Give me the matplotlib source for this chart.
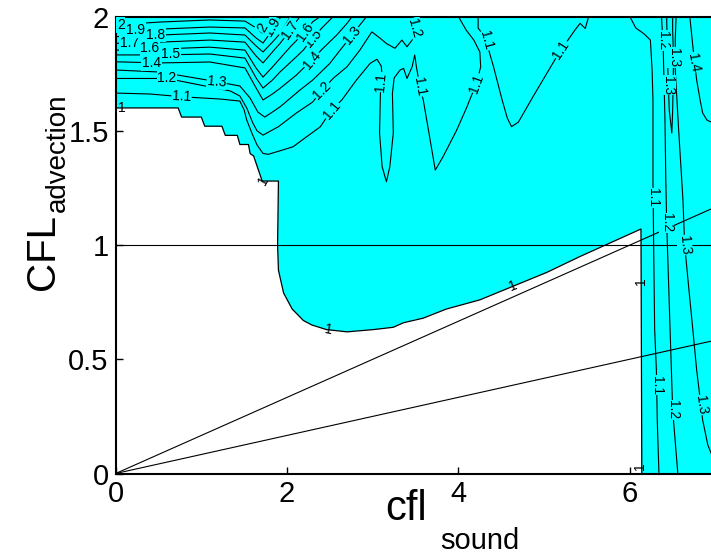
import matplotlib.pyplot as plt

plt.rcParams['font.family'] = ['Liberation Sans', 'DejaVu Sans']

CYAN = '#00ffff'

# |A| = 1 contour, the edge of the stable (white) region
bound_x = [0, 0.73, 0.77, 1.00, 1.04, 1.24, 1.28, 1.42, 1.45, 1.55, 1.57, 1.61,
           1.71, 1.90, 1.89, 1.90, 1.96, 2.06, 2.19, 2.29, 2.46, 2.70, 3.01,
           3.24, 3.36, 3.59, 3.86, 4.25, 4.64, 5.03, 5.42, 6.13, 6.14]
bound_y = [1.60, 1.60, 1.56, 1.56, 1.52, 1.52, 1.48, 1.48, 1.44, 1.44, 1.40, 1.39,
           1.28, 1.28, 1.00, 0.89, 0.79, 0.72, 0.67, 0.65, 0.63, 0.62, 0.63,
           0.64, 0.66, 0.68, 0.72, 0.76, 0.82, 0.88, 0.95, 1.07, 0.00]

# traced |A| contours in the unstable region
lev20_x = [0, 0.52, 1.10, 1.51, 1.64, 1.71, 1.80, 1.85]
lev20_y = [1.963, 1.976, 1.985, 1.980, 1.950, 1.928, 1.976, 2.0]

lev19_x = [0, 0.52, 1.10, 1.51, 1.64, 1.72, 1.83, 1.93]
lev19_y = [1.933, 1.945, 1.954, 1.950, 1.906, 1.884, 1.941, 2.0]

lev18_x = [0, 0.52, 1.10, 1.51, 1.64, 1.72, 1.83, 1.92, 2.04]
lev18_y = [1.912, 1.919, 1.928, 1.919, 1.871, 1.845, 1.888, 1.926, 2.0]

lev17_x = [0, 0.52, 1.10, 1.51, 1.64, 1.72, 1.83, 1.92, 2.04, 2.15]
lev17_y = [1.883, 1.888, 1.897, 1.888, 1.827, 1.797, 1.845, 1.883, 1.941, 2.0]

lev16_x = [0, 0.52, 1.10, 1.51, 1.64, 1.72, 1.83, 1.92, 2.04, 2.21, 2.30, 2.39]
lev16_y = [1.853, 1.858, 1.866, 1.853, 1.774, 1.735, 1.779, 1.817, 1.868, 1.933,
           1.977, 2.0]

lev15_x = [0, 0.52, 1.10, 1.51, 1.64, 1.72, 1.83, 1.92, 2.07, 2.19, 2.30, 2.42, 2.54]
lev15_y = [1.832, 1.832, 1.836, 1.818, 1.731, 1.687, 1.722, 1.758, 1.810, 1.853,
           1.906, 1.955, 2.0]

lev14_x = [0, 0.52, 1.10, 1.51, 1.64, 1.72, 1.83, 1.92, 2.11, 2.29, 2.42, 2.58,
           2.70, 2.76]
lev14_y = [1.802, 1.797, 1.801, 1.775, 1.687, 1.635, 1.661, 1.686, 1.744, 1.810,
           1.861, 1.919, 1.970, 2.0]

lev13_x = [0, 0.52, 1.18, 1.45, 1.57, 1.66, 1.74, 1.83, 1.92, 2.15, 2.30, 2.50,
           2.62, 2.76, 2.85, 2.93]
lev13_y = [1.766, 1.757, 1.715, 1.696, 1.643, 1.582, 1.560, 1.582, 1.605, 1.678,
           1.722, 1.795, 1.853, 1.919, 1.963, 2.0]

lev12_x = [0, 0.60, 0.99, 1.34, 1.45, 1.53, 1.60, 1.65, 1.72, 1.90, 2.11, 2.30,
           2.41, 2.54, 2.70, 2.85, 2.99, 3.09, 3.16, 3.26, 3.34, 3.40, 3.46, 3.49,
           3.52]
lev12_y = [1.729, 1.729, 1.700, 1.674, 1.652, 1.600, 1.535, 1.500, 1.481, 1.518,
           1.578, 1.626, 1.678, 1.730, 1.780, 1.853, 1.933, 1.904, 1.882, 1.861,
           1.897, 1.868, 1.897, 1.985, 2.0]

lev11_x = [0, 0.40, 0.77, 1.22, 1.45, 1.50, 1.53, 1.59, 1.65, 1.72, 1.78, 1.88,
           2.07, 2.23, 2.39, 2.52, 2.64, 2.81, 2.97, 3.05, 3.10, 3.11, 3.09, 3.08,
           3.11, 3.16, 3.20, 3.24, 3.23, 3.25, 3.32, 3.36, 3.40, 3.46, 3.49, 3.51,
           3.55, 3.59, 3.67, 3.73, 3.82, 3.98, 4.10, 4.21, 4.26, 4.25, 4.18, 4.09,
           4.00]
lev11_y = [1.665, 1.661, 1.649, 1.639, 1.630, 1.591, 1.547, 1.490, 1.438, 1.401,
           1.397, 1.408, 1.430, 1.474, 1.518, 1.591, 1.635, 1.722, 1.795, 1.813,
           1.783, 1.735, 1.664, 1.490, 1.343, 1.277, 1.343, 1.490, 1.664, 1.731,
           1.766, 1.773, 1.729, 1.780, 1.832, 1.780, 1.693, 1.635, 1.460, 1.328,
           1.386, 1.503, 1.605, 1.708, 1.780, 1.845, 1.897, 1.941, 2.0]

lev11b_x = [4.23, 4.23, 4.29, 4.33, 4.41, 4.51, 4.57, 4.62, 4.70, 4.87, 5.17, 5.36,
            5.42, 5.48, 5.52]
lev11b_y = [2.0, 1.950, 1.919, 1.884, 1.780, 1.635, 1.556, 1.518, 1.538, 1.649,
            1.839, 1.941, 1.970, 1.948, 2.0]

lev11c_x = [6.00, 6.07, 6.17, 6.24, 6.26, 6.27, 6.27, 6.28, 6.29, 6.31, 6.32, 6.34]
lev11c_y = [2.0, 1.950, 1.923, 1.897, 1.766, 1.635, 1.276, 0.935, 0.628, 0.453,
            0.234, 0.0]

lev12b_x = [6.37, 6.39, 6.41, 6.42, 6.43, 6.47, 6.50, 6.56]
lev12b_y = [2.0, 1.853, 1.547, 1.284, 1.096, 0.628, 0.278, 0.0]

lev13b_x = [6.43, 6.44, 6.46, 6.49, 6.50, 6.51, 6.50, 6.50]
lev13b_y = [2.0, 1.810, 1.591, 1.490, 1.591, 1.810, 1.941, 2.0]

lev13c_x = [6.54, 6.53, 6.53, 6.57, 6.62, 6.64, 6.69, 6.73, 6.78, 6.85, 6.91,
            6.95, 7.01]
lev13c_y = [2.0, 1.897, 1.766, 1.503, 1.197, 1.0, 0.803, 0.650, 0.453, 0.234,
            0.125, 0.088, 0.0]

lev14b_x = [6.70, 6.74, 6.78, 6.82, 6.85, 6.90, 6.95, 7.05]
lev14b_y = [2.0, 1.853, 1.722, 1.635, 1.578, 1.547, 1.538, 1.538]

# reference lines
ray_x = [0, 8]
ray_steep_y = [0, 1.333]
ray_flat_y = [0, 0.667]
unit_x = [0, 8]
unit_y = [1, 1]

contours = [
    (lev20_x, lev20_y), (lev19_x, lev19_y), (lev18_x, lev18_y),
    (lev17_x, lev17_y), (lev16_x, lev16_y), (lev15_x, lev15_y),
    (lev14_x, lev14_y), (lev13_x, lev13_y), (lev12_x, lev12_y),
    (lev11_x, lev11_y), (lev11b_x, lev11b_y), (lev11c_x, lev11c_y),
    (lev12b_x, lev12b_y), (lev13b_x, lev13b_y), (lev13c_x, lev13c_y),
    (lev14b_x, lev14b_y),
]

# inline contour labels: text, x, y, angle
clabels = [
    ('1.1', 0.77, 1.649, -3), ('1.1', 2.52, 1.591, 50), ('1.1', 3.10, 1.713, 85),
    ('1.1', 3.55, 1.693, -80), ('1.1', 4.21, 1.708, 70), ('1.1', 4.33, 1.895, -75),
    ('1.1', 5.20, 1.855, 57), ('1.1', 6.275, 1.206, -90), ('1.1', 6.316, 0.387, -90),
    ('1.2', 0.60, 1.729, 0), ('1.2', 2.41, 1.678, 45), ('1.2', 3.49, 1.95, -75),
    ('1.2', 6.39, 1.895, -90), ('1.2', 6.43, 1.096, -90), ('1.2', 6.505, 0.278, -90),
    ('1.3', 1.18, 1.715, -5), ('1.3', 2.76, 1.919, 50), ('1.3', 6.51, 1.82, -90),
    ('1.3', 6.45, 1.70, -90), ('1.3', 6.64, 1.0, -85), ('1.3', 6.83, 0.30, -82),
    ('1.4', 0.42, 1.797, 0), ('1.4', 2.29, 1.81, 50), ('1.4', 6.75, 1.80, -80),
    ('1.5', 0.64, 1.838, 0), ('1.5', 2.30, 1.906, 50),
    ('1.6', 0.40, 1.862, 0), ('1.6', 2.21, 1.933, 55),
    ('1.7', 0.16, 1.885, 0), ('1.7', 2.04, 1.941, 55),
    ('1.8', 0.47, 1.921, 0), ('1.9', 0.23, 1.941, 0), ('1.9', 1.83, 1.955, 60),
    ('2', 0.06, 1.963, 0), ('2', 1.72, 1.950, 60),
]
edge_labels = [
    ('1', 0.07, 1.60, 0), ('1', 1.72, 1.28, 60), ('1', 2.48, 0.628, -10),
    ('1', 4.64, 0.822, 22), ('1', 6.13, 0.84, 90), ('1', 6.12, 0.03, 90),
]

fig = plt.figure(figsize=(7.11, 5.55), dpi=100)
ax = fig.add_axes([0.1626, 0.1468, 0.9643, 0.8234])

# unstable region is everything outside the |A| = 1 edge
ax.fill([0] + bound_x + [8, 8], [2] + bound_y + [0, 2],
        color=CYAN, lw=0, zorder=0)
ax.plot(bound_x, bound_y, color='k', lw=0.9)

for xs, ys in contours:
    ax.plot(xs, ys, color='k', lw=0.8)

for s, x, y, rot in clabels:
    ax.text(x, y, s, rotation=rot, fontsize=10, ha='center', va='center',
            rotation_mode='anchor', clip_on=True,
            bbox=dict(boxstyle='square,pad=0.05', fc=CYAN, ec='none'))
for s, x, y, rot in edge_labels:
    ax.text(x, y, s, rotation=rot, fontsize=10, ha='center', va='center',
            rotation_mode='anchor', clip_on=True)

ax.plot(ray_x, ray_steep_y, color='k', lw=0.8)
ax.plot(ray_x, ray_flat_y, color='k', lw=0.8)
ax.plot(unit_x, unit_y, color='k', lw=0.8)

ax.set_xlim(0, 8)
ax.set_ylim(0, 2)
ax.set_xticks([0, 2, 4, 6])
ax.set_xticklabels(['0', '2', '4', '6'])
ax.set_yticks([0, 0.5, 1, 1.5, 2])
ax.set_yticklabels(['0', '0.5', '1', '1.5', '2'])
ax.tick_params(direction='in', length=5, width=1, labelsize=21, pad=5)
for sp in ax.spines.values():
    sp.set_linewidth(1.5)

# axis titles with MATLAB-style dropped subscripts
fig.text(385 / 711, 1 - 520 / 555, 'cfl', fontsize=30, ha='left', va='baseline')
fig.text(440 / 711, 1 - 549 / 555, 'sound', fontsize=21, ha='left', va='baseline')
fig.text(54 / 711, 1 - 290 / 555, 'CFL', fontsize=29, rotation=90,
         rotation_mode='anchor', ha='left', va='baseline')
fig.text(65 / 711, 1 - 212 / 555, 'advection', fontsize=20, rotation=90,
         rotation_mode='anchor', ha='left', va='baseline')

fig.savefig('out.png', dpi=100)
